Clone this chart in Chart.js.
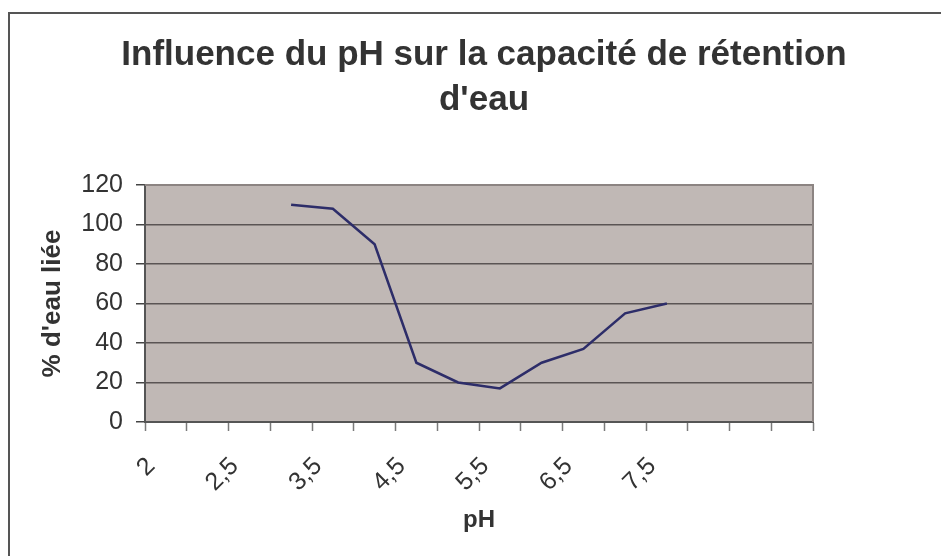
<!DOCTYPE html>
<html>
<head>
<meta charset="utf-8">
<script src="https://cdn.jsdelivr.net/npm/chart.js@4.4.1/dist/chart.umd.min.js"></script>
<style>
  html, body { margin: 0; padding: 0; background: #ffffff; }
  #wrap { position: relative; width: 941px; height: 556px; }
</style>
</head>
<body>
<div id="wrap"><canvas id="phChart" width="941" height="556"></canvas></div>
<script>
// categories (only every other one carries a label in the original)
const categories = ["2", "", "2,5", "", "3,5", "", "4,5", "", "5,5", "", "6,5", "", "7,5", "", "", ""];
const waterBound = [null, null, null, 110, 108, 90, 30, 20, 17, 30, 37, 55, 60, null, null, null];
const yTicks = [0, 20, 40, 60, 80, 100, 120];

const titleLines = ["Influence du pH sur la capacité de rétention", "d'eau"];
const xTitle = "pH";
const yTitle = "% d'eau liée";

const FONT = "'Liberation Sans', Arial, sans-serif";
const TEXT = "#333333";

const plotBackground = {
  id: "plotBackground",
  beforeDraw(chart) {
    const { ctx, chartArea: a } = chart;
    ctx.save();
    ctx.fillStyle = "#c0b8b5";
    ctx.fillRect(a.left, a.top, a.right - a.left, a.bottom - a.top);
    ctx.restore();
  },
  afterDraw(chart) {
    const { ctx, chartArea: a } = chart;
    ctx.save();
    // top and right edges of the plot area
    ctx.strokeStyle = "#8c8482";
    ctx.lineWidth = 2;
    ctx.beginPath();
    ctx.moveTo(a.left, a.top);
    ctx.lineTo(a.right, a.top);
    ctx.lineTo(a.right, a.bottom);
    ctx.stroke();
    // outer frame of the chart object
    ctx.strokeStyle = "#555555";
    ctx.lineWidth = 2;
    ctx.beginPath();
    ctx.moveTo(9, 556);
    ctx.lineTo(9, 13);
    ctx.lineTo(941, 13);
    ctx.stroke();
    ctx.restore();
  }
};

const chart = new Chart(document.getElementById("phChart"), {
  type: "line",
  data: {
    labels: categories,
    datasets: [{
      label: yTitle,
      data: waterBound,
      borderColor: "#2d2d69",
      borderWidth: 2.5,
      pointRadius: 0,
      tension: 0,
      fill: false
    }]
  },
  options: {
    responsive: false,
    animation: false,
    layout: { padding: { left: 27, right: 0, top: 0, bottom: 0 } },
    plugins: {
      legend: { display: false },
      tooltip: { enabled: false },
      title: {
        display: true,
        text: titleLines,
        color: TEXT,
        font: { family: FONT, size: 35, weight: "bold", lineHeight: 45 / 35 },
        padding: { top: 33, bottom: 62 }
      }
    },
    scales: {
      x: {
        type: "category",
        offset: true,
        grid: {
          offset: true,
          drawOnChartArea: false,
          drawTicks: true,
          tickLength: 9,
          tickColor: "#7a7a7a",
          tickWidth: 1.5
        },
        border: { color: "#555555", width: 2 },
        ticks: {
          autoSkip: false,
          minRotation: 45,
          maxRotation: 45,
          padding: 6,
          color: TEXT,
          font: { family: FONT, size: 25 },
          // trailing spaces pull the rotated label left, like Excel does
          callback(value, index) {
            const label = this.getLabelForValue(value);
            return label ? label + "   " : "";
          }
        },
        title: {
          display: true,
          text: xTitle,
          color: TEXT,
          font: { family: FONT, size: 24, weight: "bold" },
          padding: { top: 0, bottom: 21 }
        },
        afterFit(scale) { scale.height = 134; }
      },
      y: {
        min: 0,
        max: 120,
        afterBuildTicks(scale) { scale.ticks = yTicks.map(v => ({ value: v })); },
        grid: {
          color: "#5a5454",
          lineWidth: 1.5,
          tickLength: 9,
          tickColor: "#444444"
        },
        border: { color: "#555555", width: 2 },
        ticks: {
          padding: 13,
          color: TEXT,
          font: { family: FONT, size: 25 }
        },
        title: {
          display: true,
          text: yTitle,
          color: TEXT,
          font: { family: FONT, size: 26, weight: "bold" },
          padding: { top: 10, bottom: 0 }
        },
        afterFit(scale) { scale.width = 118; }
      },
      y2: {
        position: "right",
        display: true,
        grid: { display: false },
        border: { display: false },
        ticks: { display: false },
        afterFit(scale) { scale.width = 128; }
      }
    }
  },
  plugins: [plotBackground]
});
</script>
</body>
</html>
